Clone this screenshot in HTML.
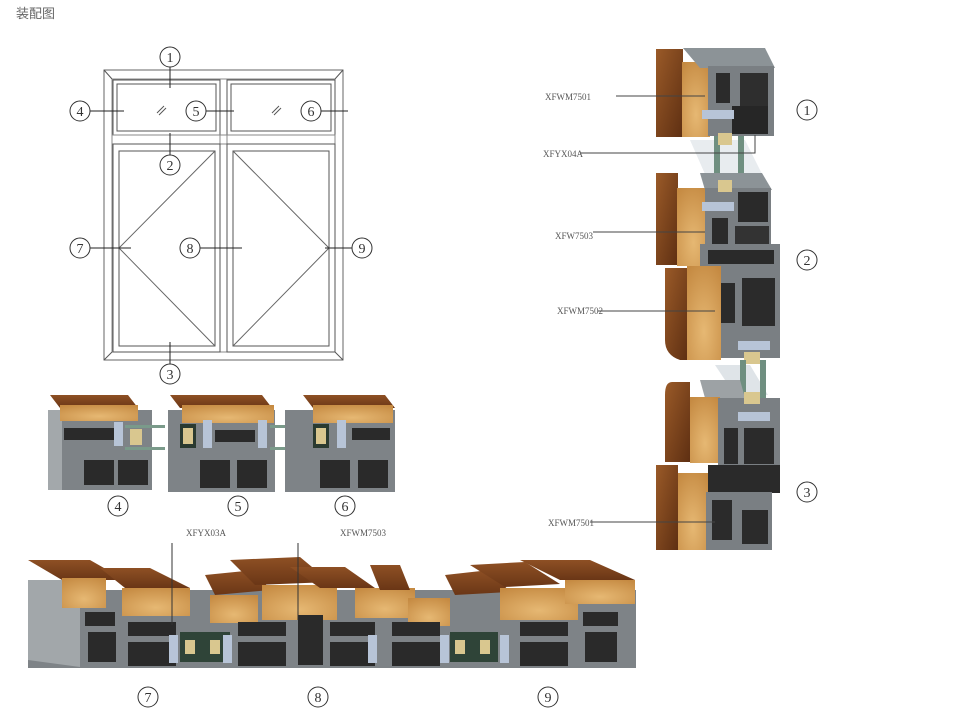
<!DOCTYPE html>
<html><head><meta charset="utf-8"><style>
html,body{margin:0;padding:0;background:#fff;}
body{width:979px;height:713px;overflow:hidden;position:relative;font-family:"Liberation Sans","Noto Sans CJK SC",sans-serif;}
.t{position:absolute;left:16px;top:3px;font-size:13px;color:#666;}
svg{position:absolute;left:0;top:0;}
</style></head><body>
<div class="t">装配图</div>
<svg width="979" height="713" viewBox="0 0 979 713" font-family="Liberation Serif, serif">
<defs>
<linearGradient id="wd" x1="0" y1="0" x2="1" y2="1"><stop offset="0" stop-color="#9a5a28"/><stop offset="1" stop-color="#5e2f12"/></linearGradient>
<linearGradient id="wdh" x1="0" y1="0" x2="0" y2="1"><stop offset="0" stop-color="#8e5024"/><stop offset="1" stop-color="#6a3616"/></linearGradient>
<radialGradient id="wl" cx="0.5" cy="0.7" r="0.8"><stop offset="0" stop-color="#e6b873"/><stop offset="1" stop-color="#c58a42"/></radialGradient>
<linearGradient id="al" x1="0" y1="0" x2="1" y2="0"><stop offset="0" stop-color="#9aa0a4"/><stop offset="1" stop-color="#6e7377"/></linearGradient>
</defs>

<!-- ===== Elevation drawing ===== -->
<g fill="none" stroke="#555" stroke-width="1">
<rect x="104" y="70" width="239" height="290" stroke="#666"/>
<rect x="112" y="79" width="223" height="273" stroke="#888"/>
<line x1="104" y1="70" x2="112" y2="79"/><line x1="343" y1="70" x2="335" y2="79"/>
<line x1="104" y1="360" x2="112" y2="352"/><line x1="343" y1="360" x2="335" y2="352"/>
<rect x="220" y="79" width="7" height="273" stroke="#888"/>
<rect x="113" y="80" width="107" height="55"/><rect x="117" y="84" width="99" height="47"/>
<rect x="227" y="80" width="108" height="55"/><rect x="231" y="84" width="100" height="47"/>
<rect x="112" y="135" width="223" height="9" stroke="#888"/>
<rect x="113" y="144" width="107" height="208"/><rect x="119" y="151" width="96" height="195"/>
<rect x="227" y="144" width="108" height="208"/><rect x="233" y="151" width="96" height="195"/>
<polyline points="215,151 119,248 215,346" stroke="#666"/>
<polyline points="233,151 329,248 233,346" stroke="#666"/>
<line x1="157" y1="113" x2="164" y2="106"/><line x1="159" y1="115" x2="166" y2="108"/>
<line x1="272" y1="113" x2="279" y2="106"/><line x1="274" y1="115" x2="281" y2="108"/>
<!-- leader lines -->
<g stroke="#222">
<line x1="170" y1="67" x2="170" y2="88"/><line x1="170" y1="133" x2="170" y2="155"/><line x1="170" y1="342" x2="170" y2="364"/>
<line x1="90" y1="111" x2="124" y2="111"/><line x1="206" y1="111" x2="234" y2="111"/><line x1="321" y1="111" x2="348" y2="111"/>
<line x1="90" y1="248" x2="131" y2="248"/><line x1="200" y1="248" x2="242" y2="248"/><line x1="325" y1="248" x2="352" y2="248"/>
</g>
</g>
<g fill="#fff" stroke="#333" stroke-width="1">
<circle cx="170" cy="57" r="10"/><circle cx="170" cy="165" r="10"/><circle cx="170" cy="374" r="10"/>
<circle cx="80" cy="111" r="10"/><circle cx="196" cy="111" r="10"/><circle cx="311" cy="111" r="10"/>
<circle cx="80" cy="248" r="10"/><circle cx="190" cy="248" r="10"/><circle cx="362" cy="248" r="10"/>
<circle cx="807" cy="110" r="10"/><circle cx="807" cy="260" r="10"/><circle cx="807" cy="492" r="10"/>
<circle cx="118" cy="506" r="10"/><circle cx="238" cy="506" r="10"/><circle cx="345" cy="506" r="10"/>
<circle cx="148" cy="697" r="10"/><circle cx="318" cy="697" r="10"/><circle cx="548" cy="697" r="10"/>
</g>
<g font-size="14" fill="#333" text-anchor="middle">
<text x="170" y="62">1</text><text x="170" y="170">2</text><text x="170" y="379">3</text>
<text x="80" y="116">4</text><text x="196" y="116">5</text><text x="311" y="116">6</text>
<text x="80" y="253">7</text><text x="190" y="253">8</text><text x="362" y="253">9</text>
<text x="807" y="115">1</text><text x="807" y="265">2</text><text x="807" y="497">3</text>
<text x="118" y="511">4</text><text x="238" y="511">5</text><text x="345" y="511">6</text>
<text x="148" y="702">7</text><text x="318" y="702">8</text><text x="548" y="702">9</text>
</g>

<!-- ===== Right column profiles ===== -->
<g>
<!-- glass between 1 and 2 -->
<polygon points="690,140 745,140 770,190 712,190" fill="#e8ecef"/>
<rect x="714" y="118" width="6" height="70" fill="#6f8f80"/><rect x="738" y="118" width="6" height="70" fill="#6f8f80"/>
<!-- B1 -->
<rect x="656" y="49" width="27" height="88" fill="url(#wd)"/>
<rect x="682" y="62" width="28" height="75" fill="url(#wl)"/>
<polygon points="683,48 765,48 775,68 700,68" fill="#8c9397"/>
<rect x="708" y="66" width="66" height="70" fill="#7a7f83"/>
<rect x="716" y="73" width="14" height="30" fill="#2b2b2b"/><rect x="740" y="73" width="28" height="38" fill="#2e2e2e"/>
<rect x="732" y="106" width="36" height="28" fill="#262626"/>
<rect x="702" y="110" width="32" height="9" fill="#b7c4d7"/>
<rect x="718" y="133" width="14" height="12" fill="#d9c78f"/>
<!-- B2 -->
<rect x="656" y="173" width="22" height="92" fill="url(#wd)"/>
<rect x="677" y="188" width="33" height="78" fill="url(#wl)"/>
<polygon points="700,173 762,173 772,190 705,190" fill="#8c9397"/>
<rect x="705" y="188" width="66" height="58" fill="#7a7f83"/>
<rect x="712" y="218" width="16" height="28" fill="#2b2b2b"/><rect x="738" y="192" width="30" height="30" fill="#2a2a2a"/>
<rect x="735" y="226" width="34" height="18" fill="#333"/>
<rect x="702" y="202" width="32" height="9" fill="#b7c4d7"/>
<rect x="718" y="180" width="14" height="12" fill="#d9c78f"/>
<!-- B3 -->
<rect x="700" y="244" width="80" height="114" fill="#7a7f83"/>
<rect x="708" y="250" width="66" height="14" fill="#2a2a2a"/>
<rect x="742" y="278" width="33" height="48" fill="#2b2b2b"/><rect x="717" y="283" width="18" height="40" fill="#2b2b2b"/>
<path d="M665,268 H688 V360 H680 Q665,355 665,340 Z" fill="url(#wd)"/>
<rect x="687" y="266" width="34" height="94" fill="url(#wl)"/>
<rect x="738" y="341" width="32" height="9" fill="#b7c4d7"/>
<rect x="744" y="352" width="16" height="12" fill="#d9c78f"/>
<!-- glass between 3 and 4 -->
<polygon points="715,365 750,365 768,395 735,395" fill="#dfe4e8"/>
<rect x="740" y="360" width="6" height="45" fill="#6f8f80"/><rect x="760" y="360" width="6" height="45" fill="#6f8f80"/>
<!-- B4 -->
<polygon points="700,380 740,380 745,398 705,398" fill="#9da2a5"/>
<path d="M672,382 H690 V462 H665 V395 Q665,382 672,382 Z" fill="url(#wd)"/>
<rect x="690" y="397" width="30" height="66" fill="url(#wl)"/>
<rect x="718" y="398" width="62" height="68" fill="#7a7f83"/>
<rect x="738" y="412" width="32" height="9" fill="#b7c4d7"/>
<rect x="744" y="392" width="16" height="12" fill="#d9c78f"/>
<rect x="724" y="428" width="14" height="36" fill="#2b2b2b"/><rect x="744" y="428" width="30" height="36" fill="#2b2b2b"/>
<!-- B5 -->
<rect x="708" y="465" width="72" height="28" fill="#2a2a2a"/>
<rect x="656" y="465" width="22" height="85" fill="url(#wd)"/>
<rect x="678" y="473" width="30" height="77" fill="url(#wl)"/>
<rect x="706" y="492" width="66" height="58" fill="#7a7f83"/>
<rect x="712" y="500" width="20" height="40" fill="#2b2b2b"/><rect x="742" y="510" width="26" height="34" fill="#2b2b2b"/>
</g>
<g stroke="#444" stroke-width="1" fill="none">
<line x1="616" y1="96" x2="705" y2="96"/>
<polyline points="580,153 755,153 755,135"/>
<line x1="593" y1="232" x2="705" y2="232"/>
<line x1="598" y1="311" x2="715" y2="311"/>
<line x1="590" y1="522" x2="715" y2="522"/>
</g>
<g font-size="9" fill="#555">
<text x="545" y="100">XFWM7501</text>
<text x="543" y="157">XFYX04A</text>
<text x="555" y="239">XFW7503</text>
<text x="557" y="314">XFWM7502</text>
<text x="548" y="526">XFWM7501</text>
<text x="186" y="536">XFYX03A</text>
<text x="340" y="536">XFWM7503</text>
</g>

<!-- ===== Middle row 4 5 6 ===== -->
<g>
<!-- 4 -->
<rect x="48" y="410" width="104" height="80" fill="#7e8387"/>
<rect x="48" y="410" width="14" height="80" fill="#a3a8ab"/>
<polygon points="50,395 128,395 138,408 60,408" fill="url(#wdh)"/>
<rect x="60" y="405" width="78" height="16" fill="url(#wl)"/>
<rect x="64" y="428" width="50" height="12" fill="#2a2a2a"/><rect x="84" y="460" width="30" height="25" fill="#2a2a2a"/>
<rect x="118" y="460" width="30" height="25" fill="#2a2a2a"/>
<rect x="114" y="422" width="9" height="24" fill="#b7c4d7"/>
<rect x="125" y="425" width="40" height="3" fill="#7a9a8a"/><rect x="125" y="447" width="40" height="3" fill="#7a9a8a"/>
<rect x="130" y="429" width="12" height="16" fill="#d9c78f"/>
<!-- 5 -->
<rect x="168" y="410" width="107" height="82" fill="#7e8387"/>
<polygon points="170,395 262,395 272,408 180,408" fill="url(#wdh)"/>
<rect x="182" y="405" width="92" height="18" fill="url(#wl)"/>
<rect x="180" y="424" width="16" height="24" fill="#2a3a30"/><rect x="183" y="428" width="10" height="16" fill="#d9c78f"/>
<rect x="203" y="420" width="9" height="28" fill="#b7c4d7"/>
<rect x="258" y="420" width="9" height="28" fill="#b7c4d7"/>
<rect x="200" y="460" width="30" height="28" fill="#2a2a2a"/><rect x="237" y="460" width="30" height="28" fill="#2a2a2a"/>
<rect x="215" y="430" width="40" height="12" fill="#2a2a2a"/>
<rect x="270" y="425" width="25" height="3" fill="#7a9a8a"/><rect x="270" y="447" width="25" height="3" fill="#7a9a8a"/>
<!-- 6 -->
<rect x="285" y="410" width="110" height="82" fill="#7e8387"/>
<polygon points="303,395 385,395 395,408 313,408" fill="url(#wdh)"/>
<rect x="313" y="405" width="80" height="18" fill="url(#wl)"/>
<rect x="313" y="424" width="16" height="24" fill="#2a3a30"/><rect x="316" y="428" width="10" height="16" fill="#d9c78f"/>
<rect x="337" y="420" width="9" height="28" fill="#b7c4d7"/>
<rect x="352" y="428" width="38" height="12" fill="#2a2a2a"/>
<rect x="320" y="460" width="30" height="28" fill="#2a2a2a"/><rect x="358" y="460" width="30" height="28" fill="#2a2a2a"/>
</g>

<!-- ===== Bottom row 7 8 9 ===== -->
<g>
<rect x="28" y="590" width="608" height="78" fill="#7e8387"/>
<polygon points="28,580 80,580 80,667 28,660" fill="#a2a7aa"/>
<!-- wood tops -->
<polygon points="28,560 90,560 125,580 62,580" fill="url(#wdh)"/>
<rect x="62" y="578" width="44" height="30" fill="url(#wl)"/>
<polygon points="100,568 150,568 190,588 125,588" fill="url(#wdh)"/>
<rect x="122" y="588" width="68" height="28" fill="url(#wl)"/>
<polygon points="205,575 255,570 270,590 215,595" fill="url(#wdh)"/>
<polygon points="230,560 300,557 330,582 255,585" fill="url(#wdh)"/>
<rect x="210" y="595" width="48" height="28" fill="url(#wl)"/>
<rect x="262" y="585" width="75" height="35" fill="url(#wl)"/>
<polygon points="290,567 345,567 375,588 320,588" fill="url(#wdh)"/>
<rect x="355" y="588" width="60" height="30" fill="url(#wl)"/>
<polygon points="370,565 400,565 410,590 380,590" fill="url(#wdh)"/>
<polygon points="445,575 490,570 510,592 455,595" fill="url(#wdh)"/>
<rect x="408" y="598" width="42" height="28" fill="url(#wl)"/>
<polygon points="470,565 525,562 560,584 505,587" fill="url(#wdh)"/>
<rect x="500" y="588" width="78" height="32" fill="url(#wl)"/>
<polygon points="520,560 590,560 635,580 560,580" fill="url(#wdh)"/>
<rect x="565" y="580" width="70" height="24" fill="url(#wl)"/>
<!-- dark cells -->
<g fill="#2a2a2a">
<rect x="85" y="612" width="30" height="14"/><rect x="88" y="632" width="28" height="30"/>
<rect x="128" y="622" width="48" height="14"/><rect x="128" y="642" width="48" height="24"/>
<rect x="238" y="622" width="48" height="14"/><rect x="238" y="642" width="48" height="24"/>
<rect x="298" y="615" width="25" height="50"/>
<rect x="330" y="622" width="45" height="14"/><rect x="330" y="642" width="45" height="24"/>
<rect x="392" y="622" width="48" height="14"/><rect x="392" y="642" width="48" height="24"/>
<rect x="520" y="622" width="48" height="14"/><rect x="520" y="642" width="48" height="24"/>
<rect x="583" y="612" width="35" height="14"/><rect x="585" y="632" width="32" height="30"/>
</g>
<!-- glazing -->
<rect x="169" y="635" width="9" height="28" fill="#b7c4d7"/>
<rect x="180" y="632" width="50" height="30" fill="#2f4438"/>
<rect x="185" y="640" width="10" height="14" fill="#d9c78f"/><rect x="210" y="640" width="10" height="14" fill="#d9c78f"/>
<rect x="223" y="635" width="9" height="28" fill="#b7c4d7"/>
<rect x="368" y="635" width="9" height="28" fill="#b7c4d7"/>
<rect x="440" y="635" width="9" height="28" fill="#b7c4d7"/>
<rect x="450" y="632" width="48" height="30" fill="#2f4438"/>
<rect x="455" y="640" width="10" height="14" fill="#d9c78f"/><rect x="480" y="640" width="10" height="14" fill="#d9c78f"/>
<rect x="500" y="635" width="9" height="28" fill="#b7c4d7"/>
</g>
<g stroke="#333" stroke-width="1">
<line x1="172" y1="543" x2="172" y2="625"/>
<line x1="298" y1="543" x2="298" y2="620"/>
</g>
</svg>
</body></html>
